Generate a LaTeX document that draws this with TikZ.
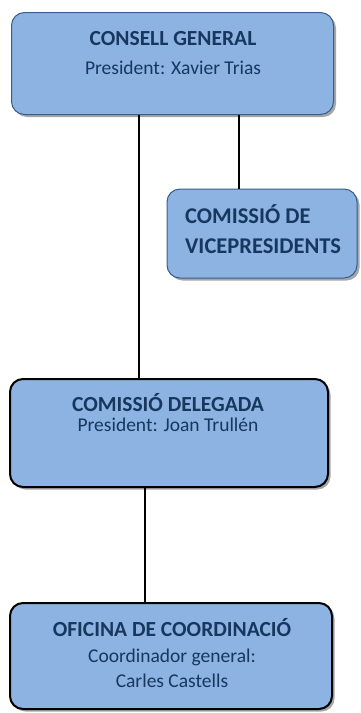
\documentclass[tikz,border=0pt]{standalone}
\usepackage{fontspec}
\setmainfont{Carlito}
\usetikzlibrary{shadows}

\definecolor{boxfill}{HTML}{8DB3E2}
\definecolor{navy}{HTML}{17375E}
\definecolor{edgeblue}{HTML}{385D8A}

\tikzset{
	orgbox/.style={draw=edgeblue, line width=1pt, fill=boxfill, rounded corners=13pt, inner sep=0pt,
		drop shadow={shadow xshift=2.5pt, shadow yshift=-2.5pt, fill=black, opacity=0.35}},
	darkbox/.style={orgbox, draw=black, line width=2pt},
	title/.style={anchor=base, inner sep=0pt, text=navy, font=\fontsize{21.5}{24}\selectfont\bfseries},
	sub/.style={anchor=base, inner sep=0pt, text=navy, font=\fontsize{19.5}{22}\selectfont},
	bigtitle/.style={anchor=base west, inner sep=0pt, text=navy, font=\fontsize{22.5}{26}\selectfont\bfseries},
	link/.style={draw=black, line width=1.6pt},
}

\begin{document}
\begin{tikzpicture}[x=1pt, y=-1pt]
	\useasboundingbox (0,0) rectangle (360,713);

	\coordinate (J1) at (139, 0); % left joint
	\coordinate (J2) at (239, 0); % right joint
	\coordinate (J3) at (145, 0); % bottom joint

	\node[orgbox, minimum width=322pt, minimum height=102pt] (cg) at (172.5, 63.5) {};
	\node[orgbox, minimum width=190pt, minimum height=89pt] (cv) at (262, 233.5) {};
	\node[darkbox, minimum width=318pt, minimum height=108pt] (cd) at (169, 433) {};
	\node[darkbox, minimum width=322pt, minimum height=106pt] (oc) at (171, 656) {};

	\draw[link] (J1 |- cg.south) -- (J1 |- cd.north);
	\draw[link] (J2 |- cg.south) -- (J2 |- cv.north);
	\draw[link] (J3 |- cd.south) -- (J3 |- oc.north);

	\node[title] (cgT) at (173, 45) {CONSELL GENERAL};
	\node[sub] (cgS) at (173, 74) {President: Xavier Trias};

	\node[bigtitle] (cvT) at (185, 223) {COMISSIÓ DE};
	\node[bigtitle] (cvB) at (185, 253) {VICEPRESIDENTS};

	\node[title] (cdT) at (168, 411) {COMISSIÓ DELEGADA};
	\node[sub] (cdS) at (168, 431) {President: Joan Trullén};

	\node[title] (ocT) at (172, 636) {OFICINA DE COORDINACIÓ};
	\node[sub] (ocS) at (172, 662) {Coordinador general:};
	\node[sub] (ocN) at (172, 687) {Carles Castells};
\end{tikzpicture}
\end{document}
